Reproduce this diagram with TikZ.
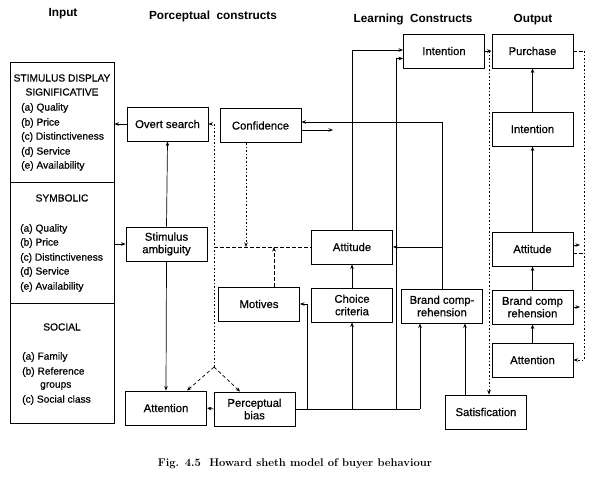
\documentclass[tikz,border=0pt]{standalone}
\usepackage{fontspec}
\newfontfamily\df[FakeBold=0.5]{Liberation Sans}
\newfontfamily\hf{Liberation Sans}
\usetikzlibrary{arrows.meta}
\begin{document}
\begin{tikzpicture}[x=1pt,y=-1pt,
 box/.style={draw, line width=0.9pt, minimum width=81pt, minimum height=34pt, inner sep=1pt, align=center, font=\df\fontsize{11.3}{12.5}\selectfont},
 ibox/.style={draw, line width=0.9pt, minimum width=104pt, inner sep=0pt},
 arr/.style={-{Stealth[length=4.5pt,width=3.5pt]}, line width=0.7pt},
 ln/.style={line width=0.7pt},
 dots/.style={line width=1.6pt, dash pattern=on 1.6pt off 2pt},
 dsh/.style={line width=0.9pt, dash pattern=on 3.5pt off 2.5pt},
 hdr/.style={font=\hf\bfseries\fontsize{11.8}{13}\selectfont, inner sep=0pt},
 itxt/.style={font=\df\fontsize{10.2}{12}\selectfont, anchor=west, inner sep=0pt},
 ctxt/.style={font=\df\fontsize{10.2}{12}\selectfont, inner sep=0pt},
]
\useasboundingbox (0,0) rectangle (593,487);

% headers
\node[hdr] (h1) at (63,14) {Input};
\node[hdr] (h2) at (213,16) {Porceptual\ \ constructs};
\node[hdr] (h3) at (413,19) {Learning\ \ Constructs};
\node[hdr] (h4) at (533,20) {Output};

% input boxes
\node[ibox, minimum height=120pt] (in1) at (62,122) {};
\node[ibox, minimum height=121pt] (in2) at (62,242.5) {};
\node[ibox, minimum height=120pt] (in3) at (62,363) {};

\node[ctxt] (t1a) at (62,78) {STIMULUS DISPLAY};
\node[ctxt] (t1b) at (62,92) {SIGNIFICATIVE};
\node[itxt] (t1c) at (21,108) {(a) Quality};
\node[itxt] (t1d) at (21,123) {(b) Price};
\node[itxt] (t1e) at (21,137) {(c) Distinctiveness};
\node[itxt] (t1f) at (21,152) {(d) Service};
\node[itxt] (t1g) at (21,166) {(e) Availability};

\node[ctxt] (t2a) at (62,198) {SYMBOLIC};
\node[itxt] (t2c) at (20,229) {(a) Quality};
\node[itxt] (t2d) at (20,243) {(b) Price};
\node[itxt] (t2e) at (20,258) {(c) Distinctiveness};
\node[itxt] (t2f) at (20,272) {(d) Service};
\node[itxt] (t2g) at (20,287) {(e) Availability};

\node[ctxt] (t3a) at (62,327) {SOCIAL};
\node[itxt] (t3c) at (22,357) {(a) Family};
\node[itxt] (t3d) at (22,372) {(b) Reference};
\node[itxt] (t3e) at (40,386) {groups};
\node[itxt] (t3f) at (22,400) {(c) Social class};

% boxes
\node[box] (overt) at (167.5,124) {Overt search};
\node[box] (conf) at (260.5,125.5) {Confidence};
\node[box] (stim) at (166.5,244) {Stimulus\\ambiguity};
\node[box] (attL) at (166,408) {Attention};
\node[box] (pbias) at (254.5,409) {Perceptual\\bias};
\node[box] (motives) at (259,304) {Motives};
\node[box] (choice) at (352,305) {Choice\\criteria};
\node[box] (attM) at (352,247) {Attitude};
\node[box] (brandM) at (442,306) {Brand comp-\\rehension};
\node[box] (intL) at (444,51) {Intention};
\node[box] (purch) at (532.5,51) {Purchase};
\node[box] (intO) at (532.5,129) {Intention};
\node[box] (attO) at (532.5,249) {Attitude};
\node[box] (brandO) at (532.5,307) {Brand comp\\rehension};
\node[box] (attnO) at (532.5,360) {Attention};
\node[box] (satis) at (486,412) {Satisfication};

% input connectors
\draw[arr] (overt.west) -- (in1.east |- overt.west);
\draw[arr] (in2.east |- stim.west) -- (stim.west);
\draw[arr] (stim.north) -- (overt.south);
\draw[arr] (stim.south) -- (attL.north);
\draw[arr] (pbias.west) -- (attL.east);

% bus from perceptual bias
\coordinate (bA) at (307,409);
\coordinate (bB) at (352,409);
\coordinate (bC) at (396,409);
\coordinate (bD) at (420,409);
\draw[ln] (pbias.east) -- (bD);
\draw[arr] (bA) |- (motives.east);
\draw[arr] (bB) -- (choice.south);
\draw[arr] (bC) |- ([yshift=-7.5pt]intL.west);
\draw[arr] (bD) -- (bD |- brandM.south);
\draw[arr] (choice.north) -- (attM.south);
\draw[arr] (attM.north) |- ([yshift=1pt]intL.west);

% brand comprehension feedback
\draw[arr] (brandM.north) |- ([yshift=3.5pt]conf.east);
\draw[arr] (brandM.north |- attM.east) -- (attM.east);
\coordinate (confout) at (333,130);
\draw[arr] ([yshift=-4.5pt]conf.east) -- (confout);

% dotted / dashed links
\coordinate (split) at (214,367);
\draw[dots,arr] (split) -- (split |- overt.east) -- (overt.east);
\draw[dsh,arr] (split) -- ([xshift=21pt]attL.north);
\draw[dsh,arr] (split) -- ([xshift=-14.5pt]pbias.north);
\draw[dsh] (split |- attM.west) -- (attM.west);
\coordinate (cf) at ([xshift=-14.5pt]conf.south);
\draw[dots,arr] (cf) -- (cf |- attM.west);
\coordinate (mt) at ([xshift=15pt]motives.north);
\draw[dsh,arr] (mt) -- (mt |- attM.west);

% output column
\draw[arr] (attnO) -- (brandO);
\draw[arr] (brandO) -- (attO);
\draw[arr] (attO) -- (intO);
\draw[arr] (intO) -- (purch);
\draw[arr] (intL.east) -- (purch.west);
\coordinate (pj) at (489,51);
\draw[dots,arr] (pj) -- (pj |- satis.north);
\coordinate (st) at ([xshift=-21pt]satis.north);
\draw[arr] (st) -- (st |- brandM.south);

% right dotted feedback
\coordinate (rt) at (584,51);
\draw[dsh] (purch.east) -- (rt);
\draw[dots,arr] (rt) |- (attnO.east);
\coordinate (ra) at (580,245);
\draw[arr] ([yshift=4pt]attO.east) -- (ra);
\coordinate (rd) at (584,253);
\draw[dsh] ([yshift=-4pt]attO.east) -- (rd);
\coordinate (rb) at (580,307);
\draw[arr] (brandO.east) -- (rb);

% caption
\node[font=\bfseries\fontsize{11.2}{13}\selectfont, inner sep=0pt] (cap) at (295,464) {Fig. 4.5\ \ Howard sheth model of buyer behaviour};
\end{tikzpicture}
\end{document}
